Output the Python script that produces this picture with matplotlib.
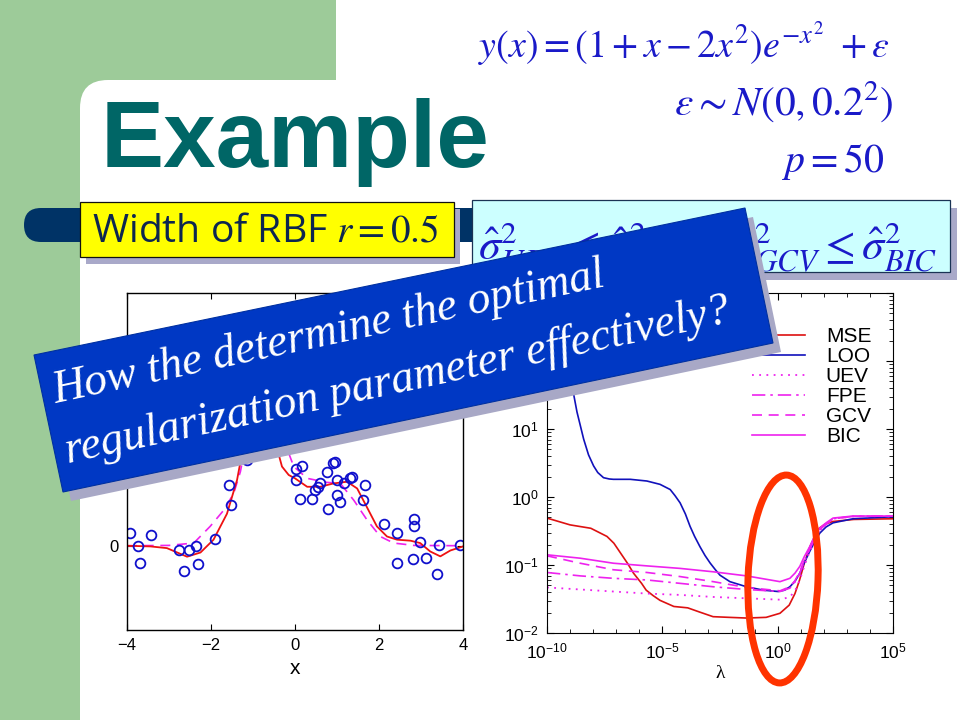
import numpy as np
import matplotlib
matplotlib.use("Agg")
import matplotlib.pyplot as plt
from matplotlib.patches import Rectangle, FancyBboxPatch, Polygon, Ellipse
from matplotlib.ticker import FixedLocator, NullFormatter, LogLocator

plt.rcParams['font.family'] = ['Liberation Sans', 'DejaVu Sans']
plt.rcParams['mathtext.fontset'] = 'custom'
plt.rcParams['mathtext.rm'] = 'Liberation Sans'
plt.rcParams['mathtext.it'] = 'Liberation Sans:italic'
plt.rcParams['mathtext.bf'] = 'Liberation Sans:bold'

# ---------------- data: left panel (RBF fit) ----------------
pts_x = [-3.94, -3.75, -3.68, -3.44, -2.77, -2.65, -2.53, -2.35, -2.32, -1.90,
         -1.58, -1.52, -1.35, -1.15, 0.03, 0.17, 0.03, 0.13, 0.40, 0.48, 0.54,
         0.59, 0.75, 0.90, 0.96, 0.79, 1.00, 1.00, 1.06, 1.16, 1.30, 1.36, 1.62,
         1.67, 2.11, 2.43, 2.43, 2.84, 2.84, 2.81, 2.98, 3.13, 3.37, 3.42, 3.92]
pts_y = [0.075, 0.0, -0.10, 0.065, -0.028, -0.15, -0.028, 0.0, -0.107, 0.04,
         0.36, 0.24, 0.54, 0.51, 0.455, 0.475, 0.39, 0.28, 0.28, 0.33, 0.35,
         0.37, 0.435, 0.49, 0.495, 0.22, 0.39, 0.30, 0.26, 0.37, 0.40, 0.41, 0.27,
         0.36, 0.13, 0.075, -0.10, 0.16, 0.115, -0.08, 0.02, -0.073, -0.166, 0.006, 0.002]

fit_x = [-4, -3.44, -3.05, -2.57, -2.25, -1.94, -1.62, -1.38, -1.26, -1.1, -0.8, -0.55,
         -0.43, -0.31, -0.15, 0.0, 0.29, 0.6, 0.92, 1.24, 1.48, 1.71, 1.95, 2.19,
         2.43, 2.75, 2.98, 3.22, 3.46, 3.70, 4.0]
fit_y = [0.0, -0.004, -0.014, -0.065, -0.04, 0.036, 0.19, 0.39, 0.55, 0.8, 0.95, 0.8,
         0.58, 0.47, 0.42, 0.40, 0.35, 0.35, 0.37, 0.38, 0.34, 0.23, 0.115, 0.055,
         0.036, 0.03, 0.016, -0.034, -0.063, -0.028, -0.004]

true_x = [-4, -3.0, -2.41, -2.02, -1.70, -1.46, -1.30, -1.1, -0.7, -0.35, -0.15, -0.03,
          0.29, 0.76, 1.08, 1.40, 1.71, 2.03, 2.35, 2.83, 4.0]
true_y = [0.0, 0.002, 0.016, 0.115, 0.21, 0.31, 0.44, 0.7, 0.9, 0.75, 0.55, 0.47,
          0.40, 0.376, 0.37, 0.27, 0.155, 0.055, 0.016, 0.002, 0.0]

# ---------------- data: right panel (criteria vs lambda), log10 values ----------------
mse_lx = [-10, -9, -8.1, -7.4, -7.1, -6.8, -6.5, -6.25, -5.9, -5.7, -5.4, -5.1, -4.5,
          -3.9, -3.4, -2.8, -2.1, -1.35, -0.5, 0.1, 0.5, 0.75, 0.95, 1.15, 1.4, 1.6,
          1.8, 2.05, 2.4, 3.3, 5]
mse_ly = [-0.31, -0.41, -0.46, -0.58, -0.68, -0.83, -0.98, -1.12, -1.27, -1.37, -1.45,
          -1.52, -1.61, -1.63, -1.69, -1.76, -1.77, -1.78, -1.77, -1.71, -1.59, -1.42,
          -1.22, -0.98, -0.73, -0.58, -0.46, -0.40, -0.36, -0.33, -0.32]

loo_lx = [-10, -9.5, -9.0, -8.7, -8.41, -8.2, -7.98, -7.8, -7.55, -7.3, -7.12, -6.39,
          -5.67, -5.10, -4.66, -4.45, -4.23, -4.0, -3.80, -3.6, -3.37, -3.15, -2.93,
          -2.70, -2.50, -2.07, -1.35, -0.62, 0.02, 0.3, 0.53, 0.75, 0.96, 1.15, 1.39,
          1.6, 1.83, 2.1, 2.40, 3.27, 5.0]
loo_ly = [3.5, 2.7, 1.79, 1.25, 0.85, 0.62, 0.457, 0.36, 0.284, 0.265, 0.26, 0.26,
          0.235, 0.186, 0.11, 0.02, -0.086, -0.25, -0.43, -0.58, -0.73, -0.86, -0.97,
          -1.07, -1.15, -1.245, -1.32, -1.37, -1.39, -1.37, -1.32, -1.24, -1.12, -0.97,
          -0.80, -0.66, -0.53, -0.44, -0.38, -0.32, -0.29]

crit_lx = [-10, -8.56, -7.12, -5.67, -4.23, -2.79, -1.35, 0.1, 0.53, 0.75, 0.96, 1.15,
           1.39, 1.6, 1.83, 2.1, 2.4, 3.27, 5.0]
uev_ly = [-1.33, -1.36, -1.39, -1.42, -1.44, -1.47, -1.49, -1.51, -1.47, -1.38, -1.22,
          -1.02, -0.80, -0.63, -0.49, -0.40, -0.32, -0.285, -0.28]
fpe_ly = [-1.11, -1.16, -1.196, -1.22, -1.27, -1.32, -1.36, -1.39, -1.34, -1.25, -1.12,
          -0.95, -0.77, -0.62, -0.48, -0.40, -0.32, -0.285, -0.28]
gcv_ly = [-0.865, -0.974, -1.07, -1.11, -1.17, -1.245, -1.33, -1.38, -1.32, -1.23, -1.10,
          -0.93, -0.75, -0.61, -0.48, -0.40, -0.32, -0.285, -0.28]
bic_ly = [-0.85, -0.90, -0.974, -1.013, -1.05, -1.10, -1.16, -1.245, -1.196, -1.12, -1.02,
          -0.88, -0.73, -0.58, -0.456, -0.38, -0.31, -0.28, -0.28]

legend_labels = ['MSE', 'LOO', 'UEV', 'FPE', 'GCV', 'BIC']

# ---------------- figure ----------------
W, H = 960, 720
fig = plt.figure(figsize=(9.6, 7.2), dpi=100)
fig.patch.set_facecolor('white')

def px_axes(x0, y0, x1, y1, **kw):
    return fig.add_axes([x0 / W, 1 - y1 / H, (x1 - x0) / W, (y1 - y0) / H], **kw)

bg = fig.add_axes([0, 0, 1, 1], zorder=0)
bg.set_xlim(0, W); bg.set_ylim(H, 0); bg.set_axis_off()

green = '#9dcb99'
bg.add_patch(Rectangle((0, 0), 336, 120, color=green, lw=0))
bg.add_patch(Rectangle((0, 0), 80, H, color=green, lw=0))
bg.add_patch(FancyBboxPatch((80, 80), 1000, 800, boxstyle='round,pad=0,rounding_size=28',
                            fc='white', ec='none'))
# navy bar
bg.add_patch(FancyBboxPatch((24, 208), 920, 34, boxstyle='round,pad=0,rounding_size=17',
                            fc='#003366', ec='none'))
# yellow box with shadow
bg.add_patch(Rectangle((86, 209), 374, 55, fc='#a9a9c9', ec='none'))
bg.add_patch(Rectangle((79.5, 202), 374, 55, fc='#ffff00', ec='#111111', lw=0.9))
# cyan box with shadow
bg.add_patch(Rectangle((478.5, 208), 478, 72, fc='#a9a9c9', ec='none'))
bg.add_patch(Rectangle((471.5, 200), 478, 72, fc='#ccffff', ec='#1a3355', lw=0.9))

r = fig.canvas.get_renderer()

def fit_text(ax, x, y, s, width, fs0=20, **kw):
    t = ax.text(x, y, s, fontsize=fs0, **kw)
    w = t.get_window_extent(r).width
    t.set_fontsize(fs0 * width / w)
    return t

fit_text(bg, 101, 167, 'Example', 389, 60, color='#006666', fontweight='bold',
         family='Liberation Sans', ha='left', va='baseline')

eqc = '#1a1ac8'
fit_text(bg, 890, 58, r'$y(x) = (1 + x - 2x^2)e^{-x^2}\ + \varepsilon$', 413, 24,
         color=eqc, ha='right', va='baseline', math_fontfamily='stix')
fit_text(bg, 893, 115, r'$\varepsilon \sim N(0,0.2^2)$', 220, 24,
         color=eqc, ha='right', va='baseline', math_fontfamily='stix')
fit_text(bg, 885, 172, r'$p = 50$', 103, 24,
         color=eqc, ha='right', va='baseline', math_fontfamily='stix')

fit_text(bg, 92, 242, r'Width of RBF $r = 0.5$', 346, 22, color='#0d2650',
         family='Open Sans', ha='left', va='baseline', math_fontfamily='stix')
fit_text(bg, 478, 259, r'$\hat{\sigma}^2_{UEV} \leq \hat{\sigma}^2_{FPE} \leq \hat{\sigma}^2_{GCV} \leq \hat{\sigma}^2_{BIC}$',
         460, 26, color='#1a1ac8', ha='left', va='baseline', math_fontfamily='stix')

# ---------------- left plot ----------------
ax1 = px_axes(127, 293, 463, 630, zorder=1)
ax1.plot(true_x, true_y, color='#ee22ee', lw=1.2, ls=(0, (6, 4)))
ax1.plot(fit_x, fit_y, color='#ee1111', lw=1.3)
ax1.plot(pts_x, pts_y, 'o', mfc='none', mec='#1010cc', mew=1.3, ms=7)
ax1.set_xlim(-4, 4); ax1.set_ylim(-0.5, 1.5)
ax1.set_xticks([-4, -2, 0, 2, 4]); ax1.set_yticks([0, 1])
ax1.set_xticklabels(['\u22124', '\u22122', '0', '2', '4'])
ax1.tick_params(direction='in', top=True, right=True, length=4, labelsize=12, pad=6)
ax1.set_xlabel('x', fontsize=15, labelpad=4)
for s in ax1.spines.values():
    s.set_linewidth(1.0)

# ---------------- right plot ----------------
ax2 = px_axes(547, 293, 893, 633, zorder=1)
lam_mse = 10.0 ** np.array(mse_lx)
lam_loo = 10.0 ** np.array(loo_lx)
lam_c = 10.0 ** np.array(crit_lx)
ax2.plot(lam_mse, 10.0 ** np.array(mse_ly), color='#dd1111', lw=1.2, label=legend_labels[0])
ax2.plot(lam_loo, 10.0 ** np.array(loo_ly), color='#1111bb', lw=1.2, label=legend_labels[1])
ax2.plot(lam_c, 10.0 ** np.array(uev_ly), color='#ee22ee', lw=1.3, ls=(0, (1, 3)), label=legend_labels[2])
ax2.plot(lam_c, 10.0 ** np.array(fpe_ly), color='#ee22ee', lw=1.2, ls=(0, (8, 3, 1.5, 3)), label=legend_labels[3])
ax2.plot(lam_c, 10.0 ** np.array(gcv_ly), color='#ee22ee', lw=1.2, ls=(0, (6, 4)), label=legend_labels[4])
ax2.plot(lam_c, 10.0 ** np.array(bic_ly), color='#ee22ee', lw=1.2, label=legend_labels[5])
ax2.set_xscale('log'); ax2.set_yscale('log')
ax2.set_xlim(1e-10, 1e5); ax2.set_ylim(1e-2, 1e3)
ax2.xaxis.set_major_locator(FixedLocator([1e-10, 1e-5, 1e0, 1e5]))
ax2.xaxis.set_minor_locator(FixedLocator([10.0 ** k for k in range(-10, 6)]))
ax2.xaxis.set_minor_formatter(NullFormatter())
ax2.yaxis.set_major_locator(LogLocator(base=10, numticks=20))
ax2.yaxis.set_minor_locator(LogLocator(base=10, subs=np.arange(2, 10), numticks=20))
ax2.yaxis.set_minor_formatter(NullFormatter())
ax2.tick_params(which='both', direction='in', top=True, right=True, labelsize=12.5, pad=6)
ax2.tick_params(which='major', length=5)
ax2.tick_params(which='minor', length=3)
ax2.set_xlabel('\u03bb', fontsize=14, family='Liberation Serif', labelpad=3)
ax2.legend(loc='upper left', bbox_to_anchor=(0.592, 0.90), frameon=False,
           fontsize=15, handlelength=2.55, handletextpad=1.0, labelspacing=0.05,
           borderpad=0, borderaxespad=0)

# ---------------- overlay: banner and ellipse ----------------
fg = fig.add_axes([0, 0, 1, 1], zorder=5)
fg.set_xlim(0, W); fg.set_ylim(H, 0); fg.set_axis_off()

banner = [(34, 355), (745, 208), (773, 343), (63, 492)]
shadow = [(x + 8, y + 9) for x, y in banner]
fg.add_patch(Polygon(shadow, closed=True, fc='#a8a8c6', ec='none'))
fg.add_patch(Polygon(banner, closed=True, fc='#0038c4', ec='#0030a0', lw=0.8))

ang = 12
lines = [(55, 403, 'How the determine the optimal'),
         (68, 463, 'regularization parameter effectively?')]
texts = []
for (x, y, s) in lines:
    t = fg.text(x, y, s, fontsize=30, color='white', style='italic',
                family='Liberation Serif', ha='left', va='baseline',
                rotation_mode='anchor')
    texts.append(t)
w2 = texts[1].get_window_extent(r).width
fsz = 30 * 680 / w2
for t in texts:
    t.set_fontsize(fsz)
    t.set_rotation(ang)

fg.add_patch(Ellipse((783, 579), 70, 208, angle=2, fill=False, ec='#ff3300', lw=5))

fig.savefig('out.png', dpi=100)
